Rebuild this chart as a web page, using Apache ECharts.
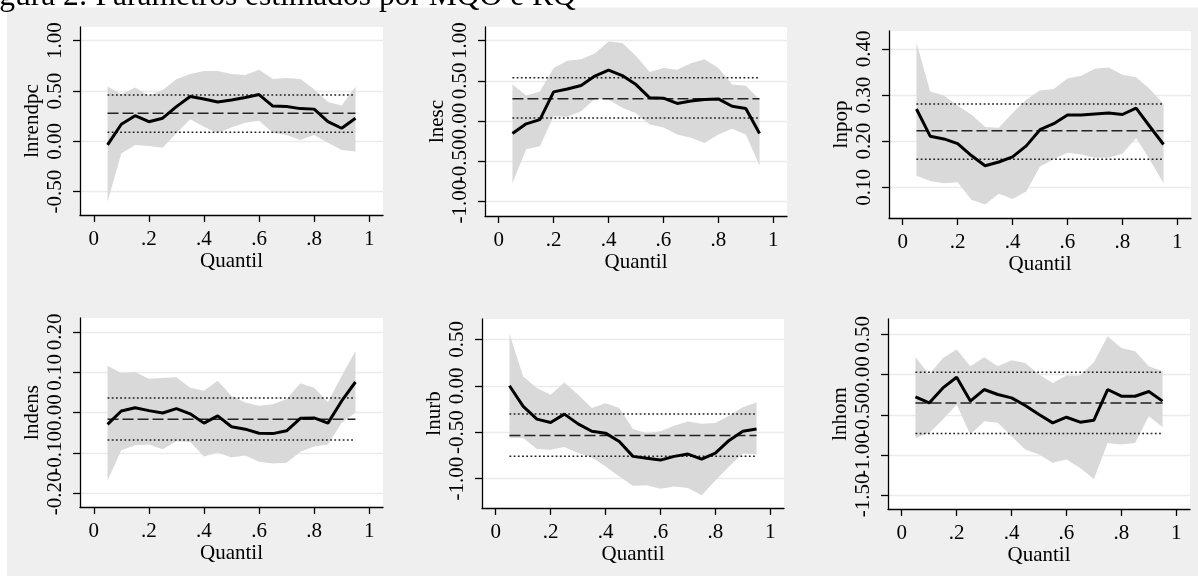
<!DOCTYPE html>
<html>
<head>
<meta charset="utf-8">
<script src="https://cdn.jsdelivr.net/npm/echarts@6/dist/echarts.min.js"></script>
<style>
html,body{margin:0;padding:0;background:#fff}
#main{width:1198px;height:576px}
</style>
</head>
<body>
<div id="main"></div>
<script>
// quantis da regressao quantilica
const quantis = [0.05,0.10,0.15,0.20,0.25,0.30,0.35,0.40,0.45,0.50,0.55,0.60,0.65,0.70,0.75,0.80,0.85,0.90,0.95];
const xTicks = [0,0.2,0.4,0.6,0.8,1];
const xTickLabels = ['0','.2','.4','.6','.8','1'];

// lnrendpc
const lnrendpcCoef = [-0.036,0.17,0.255,0.195,0.23,0.345,0.445,0.42,0.39,0.41,0.435,0.465,0.35,0.345,0.325,0.32,0.195,0.13,0.23];
const lnrendpcLo = [-0.6,-0.12,-0.036,-0.046,-0.063,0.08,0.22,0.146,0.08,0.14,0.185,0.205,0.086,0.063,0.013,0.063,-0.013,-0.086,-0.1];
const lnrendpcHi = [0.545,0.467,0.536,0.454,0.51,0.616,0.67,0.70,0.70,0.67,0.66,0.71,0.62,0.63,0.62,0.517,0.39,0.357,0.545];
const lnrendpcMqo = [0.278,0.09,0.46]; // coef, inf, sup
const lnrendpcTicks = [-0.5,0,0.5,1];

// lnesc
const lnescCoef = [-0.153,-0.033,0.02,0.364,0.40,0.443,0.56,0.634,0.567,0.455,0.29,0.286,0.22,0.25,0.27,0.277,0.186,0.157,-0.153];
const lnescLo = [-0.77,-0.35,-0.31,0.06,0.054,0.124,0.277,0.27,0.166,0.10,-0.04,-0.08,-0.166,-0.207,-0.27,-0.166,-0.095,-0.166,-0.55];
const lnescHi = [0.455,0.32,0.37,0.66,0.75,0.77,0.84,0.99,0.97,0.81,0.61,0.66,0.64,0.72,0.77,0.66,0.455,0.44,0.27];
const lnescMqo = [0.28,0.04,0.54];
const lnescTicks = [-1,-0.5,0,0.5,1];

// lnpop
const lnpopCoef = [0.27,0.211,0.205,0.195,0.169,0.147,0.155,0.166,0.19,0.225,0.238,0.257,0.257,0.259,0.261,0.258,0.272,0.232,0.193];
const lnpopLo = [0.125,0.114,0.109,0.111,0.073,0.063,0.086,0.075,0.091,0.145,0.161,0.175,0.171,0.164,0.164,0.173,0.207,0.16,0.109];
const lnpopHi = [0.414,0.308,0.299,0.277,0.258,0.231,0.229,0.261,0.29,0.31,0.313,0.336,0.342,0.357,0.36,0.344,0.339,0.313,0.281];
const lnpopMqo = [0.223,0.161,0.281];
const lnpopTicks = [0.1,0.2,0.3,0.4];

// lndens
const lndensCoef = [-0.029,0.004,0.012,0.005,-0.001,0.01,-0.003,-0.026,-0.008,-0.035,-0.041,-0.051,-0.052,-0.045,-0.014,-0.013,-0.026,0.029,0.076];
const lndensLo = [-0.168,-0.093,-0.081,-0.079,-0.091,-0.071,-0.073,-0.109,-0.099,-0.111,-0.106,-0.122,-0.126,-0.124,-0.097,-0.084,-0.079,-0.025,0.0];
const lndensHi = [0.116,0.098,0.101,0.084,0.086,0.088,0.062,0.054,0.079,0.041,0.025,0.017,0.021,0.033,0.073,0.062,0.026,0.091,0.153];
const lndensMqo = [-0.0165,-0.068,0.036];
const lndensTicks = [-0.2,-0.1,0,0.1,0.2];

// lnurb
const lnurbCoef = [0.0,-0.222,-0.359,-0.395,-0.305,-0.41,-0.49,-0.51,-0.6,-0.76,-0.78,-0.8,-0.76,-0.735,-0.79,-0.725,-0.588,-0.49,-0.466];
const lnurbLo = [-0.563,-0.563,-0.68,-0.69,-0.66,-0.725,-0.77,-0.87,-0.976,-1.076,-1.07,-1.11,-1.084,-1.1,-1.18,-1.02,-0.87,-0.73,-0.74];
const lnurbHi = [0.56,0.1,-0.025,-0.097,0.036,-0.097,-0.24,-0.187,-0.24,-0.466,-0.51,-0.49,-0.43,-0.384,-0.41,-0.402,-0.323,-0.23,-0.18];
const lnurbMqo = [-0.535,-0.76,-0.305];
const lnurbTicks = [-1,-0.5,0,0.5];

// lnhom
const lnhomCoef = [-0.277,-0.352,-0.166,-0.033,-0.33,-0.186,-0.248,-0.29,-0.385,-0.497,-0.6,-0.53,-0.592,-0.567,-0.186,-0.269,-0.269,-0.211,-0.33];
const lnhomLo = [-0.787,-0.725,-0.559,-0.373,-0.745,-0.58,-0.6,-0.766,-0.93,-0.994,-1.097,-1.056,-1.16,-1.296,-0.849,-0.87,-0.849,-0.518,-0.65];
const lnhomHi = [0.215,0.0,0.207,0.31,0.104,0.215,0.104,0.178,0.145,0.0,-0.104,-0.012,-0.012,0.153,0.476,0.331,0.29,0.104,0.041];
const lnhomMqo = [-0.352,-0.733,0.029];
const lnhomTicks = [-1.5,-1,-0.5,0,0.5];

const FONT = '"Liberation Serif", "Times New Roman", serif';

// paineis: posicao do grid e limites do eixo y
const paineis = [
    {nome:'lnrendpc', coef:lnrendpcCoef, lo:lnrendpcLo, hi:lnrendpcHi, mqo:lnrendpcMqo, ticks:lnrendpcTicks, grid:[80,27,303,188], ymin:-0.732, ymax:1.136},
    {nome:'lnesc', coef:lnescCoef, lo:lnescLo, hi:lnescHi, mqo:lnescMqo, ticks:lnescTicks, grid:[485,27,302,189], ymin:-1.178, ymax:1.17},
    {nome:'lnpop', coef:lnpopCoef, lo:lnpopLo, hi:lnpopHi, mqo:lnpopMqo, ticks:lnpopTicks, grid:[889,31,302,187], ymin:0.0336, ymax:0.439},
    {nome:'lndens', coef:lndensCoef, lo:lndensLo, hi:lndensHi, mqo:lndensMqo, ticks:lndensTicks, grid:[80,318,303,189], ymin:-0.234, ymax:0.2347},
    {nome:'lnurb', coef:lnurbCoef, lo:lnurbLo, hi:lnurbHi, mqo:lnurbMqo, ticks:lnurbTicks, grid:[482,319,302,189], ymin:-1.316, ymax:0.719},
    {nome:'lnhom', coef:lnhomCoef, lo:lnhomLo, hi:lnhomHi, mqo:lnhomMqo, ticks:lnhomTicks, grid:[888,319,302,190], ymin:-1.67, ymax:0.69}
];

function linhaMqo(i, v, tipo){
    return {
        type:'line', xAxisIndex:i, yAxisIndex:2*i, symbol:'none', silent:true, z:2,
        data:[[quantis[0], v],[quantis[quantis.length-1], v]],
        lineStyle:{color:'#222', width:1.5, type:tipo}
    };
}

function rotuloY(v){ return v.toFixed(2); }

let grid = [], xAxis = [], yAxis = [], series = [];
paineis.forEach(function(p, i){
    grid.push({left:p.grid[0], top:p.grid[1], width:p.grid[2], height:p.grid[3],
        show:true, backgroundColor:'#fff', borderWidth:0});
    xAxis.push({
        type:'value', gridIndex:i, min:-0.05, max:1.05,
        name:'Quantil', nameLocation:'middle', nameGap:27,
        nameTextStyle:{fontFamily:FONT, fontSize:21, color:'#000'},
        axisLine:{show:true, onZero:false, lineStyle:{color:'#000', width:1.3}},
        axisTick:{show:true, length:7, customValues:xTicks, lineStyle:{color:'#000', width:1.3}},
        axisLabel:{customValues:xTicks, margin:14, fontFamily:FONT, fontSize:21, color:'#000',
            showMinLabel:true, showMaxLabel:true,
            formatter:function(v){
                for (let k = 0; k < xTicks.length; k++) {
                    if (Math.abs(xTicks[k]-v) < 1e-9) return xTickLabels[k];
                }
                return '';
            }},
        splitLine:{show:false}
    });
    // os rotulos do eixo y se encostam: metade num eixo, metade num segundo eixo sobreposto
    let pares = p.ticks.filter(function(t, k){ return k % 2 === 0; });
    let impares = p.ticks.filter(function(t, k){ return k % 2 === 1; });
    yAxis.push({
        type:'value', gridIndex:i, min:p.ymin, max:p.ymax, position:'left',
        name:p.nome, nameLocation:'middle', nameGap:37,
        nameTextStyle:{fontFamily:FONT, fontSize:21, color:'#000'},
        axisLine:{show:true, onZero:false, lineStyle:{color:'#000', width:1.3}},
        axisTick:{show:true, length:7, customValues:p.ticks, lineStyle:{color:'#000', width:1.3}},
        axisLabel:{customValues:pares, rotate:90, margin:14, fontFamily:FONT, fontSize:21, color:'#000',
            showMinLabel:true, showMaxLabel:true, formatter:rotuloY},
        splitLine:{show:true, lineStyle:{color:'#ebebeb', width:1.3}}
    });
    yAxis.push({
        type:'value', gridIndex:i, min:p.ymin, max:p.ymax, position:'left', offset:0,
        axisLine:{show:false, onZero:false},
        axisTick:{show:false},
        axisLabel:{customValues:impares, rotate:90, margin:14, fontFamily:FONT, fontSize:21, color:'#000',
            showMinLabel:true, showMaxLabel:true, formatter:rotuloY},
        splitLine:{show:false}
    });
    // faixa do intervalo de confianca da RQ
    series.push({
        type:'custom', xAxisIndex:i, yAxisIndex:2*i, silent:true, z:1,
        data:quantis.map(function(q, j){ return [q, p.lo[j], p.hi[j]]; }),
        renderItem:function(params, api){
            if (params.dataIndex !== 0) return null;
            let pts = [];
            quantis.forEach(function(q, j){ pts.push(api.coord([q, p.hi[j]])); });
            for (let j = quantis.length-1; j >= 0; j--) pts.push(api.coord([quantis[j], p.lo[j]]));
            return {type:'polygon', shape:{points:pts}, style:{fill:'#d9d9d9'}};
        }
    });
    series.push(linhaMqo(i, p.mqo[1], [1.8,2.4]));
    series.push(linhaMqo(i, p.mqo[2], [1.8,2.4]));
    series.push(linhaMqo(i, p.mqo[0], [11,4]));
    series.push({
        type:'line', xAxisIndex:i, yAxisIndex:2*i, symbol:'none', silent:true, z:3,
        data:quantis.map(function(q, j){ return [q, p.coef[j]]; }),
        lineStyle:{color:'#000', width:3}
    });
});

let myChart = echarts.init(document.getElementById('main'));
myChart.setOption({
    backgroundColor:'#efefef',
    animation:false,
    graphic:[
        {type:'rect', shape:{x:0, y:0, width:1198, height:7.5}, style:{fill:'#fff'}},
        {type:'rect', shape:{x:0, y:0, width:7, height:576}, style:{fill:'#fff'}},
        {type:'text', x:-27, y:-3.5, style:{text:'Figura 2: Parâmetros estimados por MQO e RQ',
            font:'31.5px ' + FONT, fill:'#000', verticalAlign:'middle'}}
    ],
    grid:grid, xAxis:xAxis, yAxis:yAxis, series:series
});
</script>
</body>
</html>
